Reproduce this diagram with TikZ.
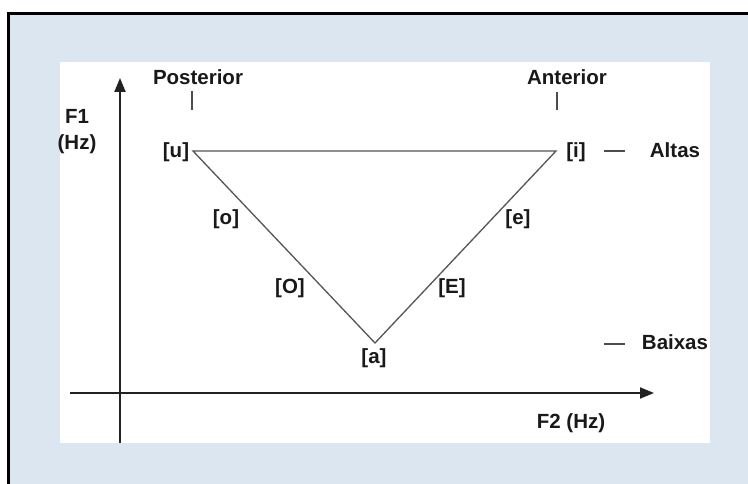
\documentclass[tikz,border=0pt]{standalone}
\usepackage{fontspec}
\setmainfont{Liberation Sans}
\usetikzlibrary{arrows.meta}
\definecolor{panelblue}{HTML}{DCE6F1}
\definecolor{axisgray}{HTML}{222222}
\definecolor{edgegray}{HTML}{555555}
\tikzset{
  lbl/.style={font=\fontsize{20.5}{26}\selectfont\bfseries, inner sep=0pt, text=black!90},
  axis/.style={line width=2pt, draw=axisgray, -{Triangle[length=14pt,width=11pt]}},
  edge/.style={line width=1.3pt, draw=edgegray},
  tickmark/.style={line width=1.3pt, draw=black!70}
}
\begin{document}
\begin{tikzpicture}[x=1pt,y=-1pt]
      \useasboundingbox (0,0) rectangle (748,484);
      \clip (0,0) rectangle (748,484);
      \draw [line width=3pt, fill=panelblue] (8.5,13.5) rectangle (800,520);
      \fill [white] (60,62) rectangle (710,443);
      \coordinate (Ybot) at (120,443);
      \coordinate (Ytop) at (120,78);
      \coordinate (Xl) at (70,393);
      \coordinate (Xr) at (654,393);
      \draw [axis] (Ybot) to (Ytop);
      \draw [axis] (Xl) to (Xr);
      \coordinate (U) at (193,151);
      \coordinate (I) at (556,151);
      \coordinate (A) at (375,343);
      \draw [edge] (U) to (I) to (A) to cycle;
      \node [lbl] (post) at (198,77) {Posterior};
      \node [lbl] (ant) at (567,77) {Anterior};
      \coordinate (pt1) at (192,91);
      \coordinate (pt2) at (192,110);
      \coordinate (at1) at (557,92);
      \coordinate (at2) at (557,110);
      \draw [tickmark] (pt1) to (pt2);
      \draw [tickmark] (at1) to (at2);
      \node [lbl, align=center] (F1) at (77,132) {F1\\(Hz)};
      \node [lbl] (u) at (176,152) {[u]};
      \node [lbl] (i) at (576,152) {[i]};
      \node [lbl] (o) at (226,219) {[o]};
      \node [lbl] (e) at (518,219) {[e]};
      \node [lbl] (OO) at (290,288) {[O]};
      \node [lbl] (EE) at (452,288) {[E]};
      \node [lbl] (a) at (374,358) {[a]};
      \node [lbl] (alta) at (675,150) {Altas};
      \node [lbl] (baixa) at (675,342) {Baixas};
      \coordinate (d1) at (604,151);
      \coordinate (d2) at (625,151);
      \coordinate (d3) at (604,344);
      \coordinate (d4) at (625,344);
      \draw [tickmark] (d1) to (d2);
      \draw [tickmark] (d3) to (d4);
      \node [lbl] (F2) at (571,423) {F2 (Hz)};
    \end{tikzpicture}
\end{document}
